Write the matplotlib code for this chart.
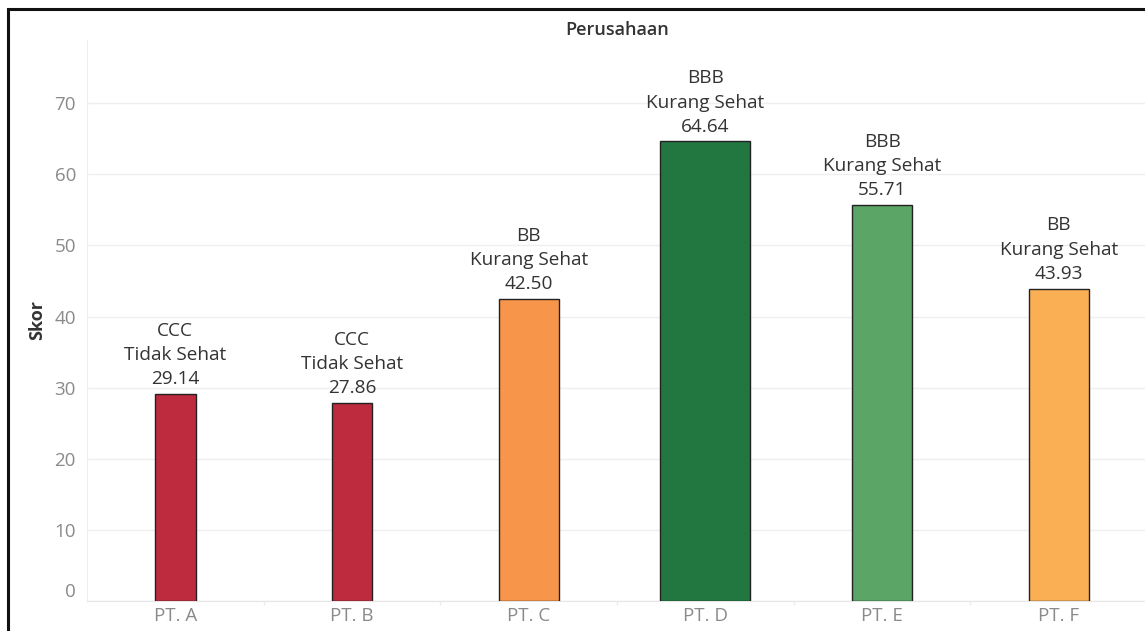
"""Skor per perusahaan — bar chart bergaya Tableau."""

import matplotlib

matplotlib.use("Agg")

import matplotlib.pyplot as plt  # noqa: E402
from matplotlib.patches import Rectangle  # noqa: E402

# Data
companies = ["PT. A", "PT. B", "PT. C", "PT. D", "PT. E", "PT. F"]
scores = [29.14, 27.86, 42.50, 64.64, 55.71, 43.93]
ratings = ["CCC", "CCC", "BB", "BBB", "BBB", "BB"]
health = ["Tidak Sehat", "Tidak Sehat", "Kurang Sehat", "Kurang Sehat",
          "Kurang Sehat", "Kurang Sehat"]
y_ticks = [0, 10, 20, 30, 40, 50, 60, 70]

# Style
bar_colors = ["#BE2A3E", "#BE2A3E", "#F7964A", "#21773F", "#5BA566", "#FBAF55"]
bar_widths = [0.23, 0.23, 0.34, 0.51, 0.34, 0.34]
TICK_GREY = "#8a8a8a"
TEXT_DARK = "#333333"

plt.rcParams["font.family"] = ["Open Sans", "DejaVu Sans"]

fig = plt.figure(figsize=(11.45, 6.31), dpi=100)
ax = fig.add_axes([87 / 1145, 1 - 601 / 631, 1060 / 1145, 561 / 631])

x = list(range(len(companies)))
ax.bar(x, scores, width=bar_widths, color=bar_colors,
       edgecolor="#222222", linewidth=1.0, zorder=3)

for xi, s, r, h in zip(x, scores, ratings, health):
    ax.annotate(f"{r}\n{h}\n{s:.2f}", (xi, s), xytext=(0, 4),
                textcoords="offset points", ha="center", va="bottom",
                fontsize=13.7, color=TEXT_DARK, linespacing=1.45, zorder=4)

ax.set_xlim(-0.5, len(companies) - 0.5)
ax.set_ylim(0, 78.9)
ax.set_yticks(y_ticks)
ax.set_yticklabels([str(t) for t in y_ticks], fontsize=13.5, color=TICK_GREY)
ax.set_xticks(x)
ax.set_xticklabels(companies, fontsize=13.5, color=TICK_GREY)
ax.tick_params(axis="both", length=0, pad=8)
ax.tick_params(axis="x", pad=4)
# "0" dinaikkan sedikit seperti di Tableau
ax.get_yticklabels()[0].set_va("bottom")

# Pembatas kolom di bawah sumbu
ax.set_xticks([i + 0.5 for i in x[:-1]], minor=True)
ax.tick_params(axis="x", which="minor", length=3, color="#ececec", width=1)

ax.grid(axis="y", color="#efefef", linewidth=1, zorder=0)
for side in ("top", "right"):
    ax.spines[side].set_visible(False)
ax.spines["left"].set_color("#efefef")
ax.spines["bottom"].set_color("#e6e6e6")

ax.set_ylabel("Skor", fontsize=13, fontweight="bold", color=TEXT_DARK,
              labelpad=6)
fig.text((87 + 1147) / 2 / 1145, 1 - 30 / 631, "Perusahaan", ha="center",
         va="center", fontsize=13, fontweight="semibold", color=TEXT_DARK)

# Bingkai hitam tangkapan layar
fig.patches.append(Rectangle((7.5 / 1145, -0.05), 1.2, 1 - 8.5 / 631 + 0.05,
                             transform=fig.transFigure, fill=False,
                             edgecolor="#111111", linewidth=2.2))

fig.savefig("out.png", dpi=100)
plt.close(fig)
